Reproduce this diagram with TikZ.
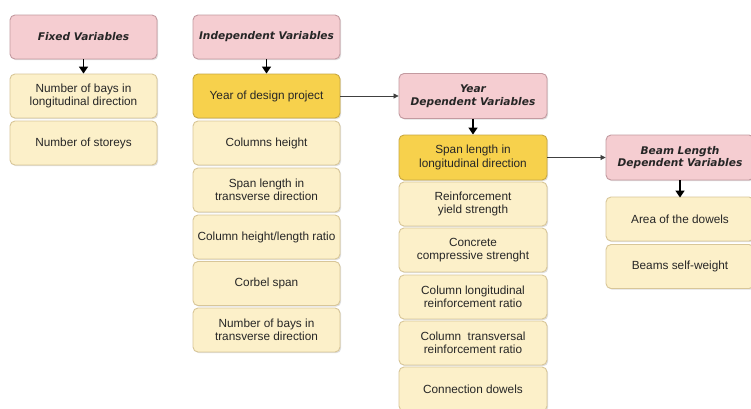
\documentclass[tikz,border=0pt]{standalone}
\usepackage{fontspec}
\setmainfont{Liberation Sans}
\newfontfamily\hdrfont{DejaVu Sans}
\usetikzlibrary{arrows.meta,shadows}
\definecolor{pinkfill}{HTML}{F5CDD1}
\definecolor{pinkdraw}{HTML}{C39AA0}
\definecolor{goldfill}{HTML}{F7D14C}
\definecolor{golddraw}{HTML}{C9A842}
\definecolor{itemfill}{HTML}{FCF0C9}
\definecolor{itemdraw}{HTML}{D8C698}
\definecolor{txt}{HTML}{262626}
\tikzset{
  box/.style={rounded corners=5pt, minimum width=147pt, minimum height=44pt, align=center,
    text=txt, line width=0.9pt, drop shadow={shadow xshift=1.2pt, shadow yshift=-1.2pt, opacity=0.25}},
  hdr/.style={box, fill=pinkfill, draw=pinkdraw, font=\hdrfont\bfseries\itshape\fontsize{10.6}{12.5}\selectfont},
  goldbox/.style={box, fill=goldfill, draw=golddraw, font=\fontsize{11.8}{13.5}\selectfont},
  item/.style={box, fill=itemfill, draw=itemdraw, font=\fontsize{11.8}{13.5}\selectfont},
  downarr/.style={-{Triangle[width=9pt,length=7pt]}, line width=1.6pt, black},
  sidearr/.style={-{Triangle[width=5pt,length=5pt]}, line width=0.8pt, black!75}
}
\begin{document}
\begin{tikzpicture}[x=1pt,y=-1pt]
\clip (0,0) rectangle (751,408);
\useasboundingbox (0,0) rectangle (751,408);
\fill[white] (0,0) rectangle (751,408);
% Fixed
\node[hdr] (fv) at (83.5,37) {Fixed Variables};
\node[item] (f1) at (83.5,96) {Number of bays in\\longitudinal direction};
\node[item] (f2) at (83.5,143) {Number of storeys};
% Independent
\node[hdr] (iv) at (266.5,37) {Independent Variables};
\node[goldbox] (i1) at (266.5,96) {Year of design project};
\node[item] (i2) at (266.5,143) {Columns height};
\node[item] (i3) at (266.5,190) {Span length in\\transverse direction};
\node[item] (i4) at (266.5,237) {Column height/length ratio};
\node[item] (i5) at (266.5,283.5) {Corbel span};
\node[item] (i6) at (266.5,330) {Number of bays in\\transverse direction};
% Year dependent
\node[hdr, minimum width=148pt, minimum height=45pt] (yv) at (473,96) {Year\\Dependent Variables};
\node[goldbox, minimum width=148pt, minimum height=45pt] (y1) at (473,157.5) {Span length in\\longitudinal direction};
\node[item, minimum width=148pt] (y2) at (473,204) {Reinforcement\\yield strength};
\node[item, minimum width=148pt] (y3) at (473,250) {Concrete\\compressive strenght};
\node[item, minimum width=148pt] (y4) at (473,297) {Column longitudinal\\reinforcement ratio};
\node[item, minimum width=148pt] (y5) at (473,343) {Column\ \ transversal\\reinforcement ratio};
\node[item, minimum width=148pt] (y6) at (473,389) {Connection dowels};
% Beam length dependent
\node[hdr, minimum width=148pt, minimum height=45pt] (bv) at (680,157.5) {Beam Length\\Dependent Variables};
\node[item, minimum width=148pt] (b1) at (680,219) {Area of the dowels};
\node[item, minimum width=148pt] (b2) at (680,266.5) {Beams self-weight};
% arrows
\draw[downarr] (fv.south) -- (f1.north);
\draw[downarr] (iv.south) -- (i1.north);
\draw[downarr] (yv.south) -- (y1.north);
\draw[downarr] (bv.south) -- ([yshift=-1pt]b1.north);
\draw[sidearr] (i1.east) -- (yv.west);
\draw[sidearr] (y1.east) -- (bv.west);
\end{tikzpicture}
\end{document}
